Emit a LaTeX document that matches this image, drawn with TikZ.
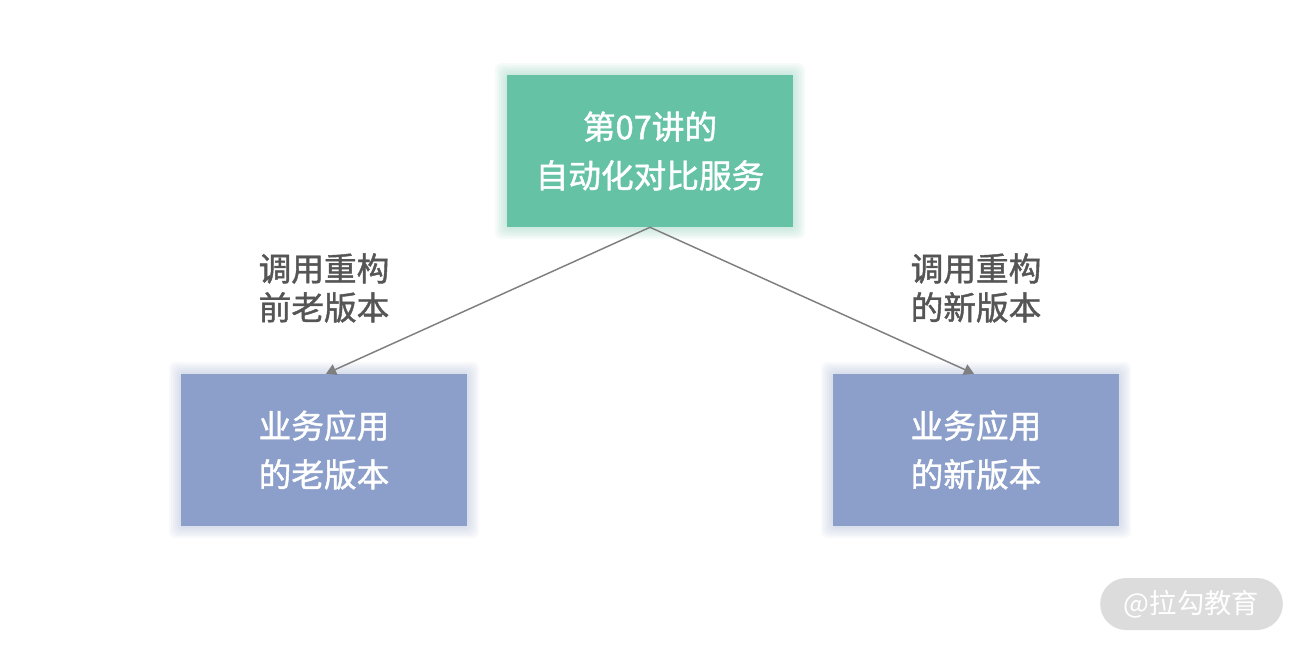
\documentclass[tikz,border=0pt]{standalone}
\usepackage{fontspec}
\setmainfont{Noto Sans CJK SC}
\newfontfamily\medfont[FakeBold=1.3]{Noto Sans CJK SC}
\usetikzlibrary{arrows.meta}
\definecolor{boxgreen}{HTML}{66C2A5}
\definecolor{boxblue}{HTML}{8C9FCA}
\definecolor{labelgray}{HTML}{555555}
\definecolor{linegray}{HTML}{7F7F7F}
\definecolor{wmgray}{HTML}{DCDCDC}
\tikzset{
  px/.style={x=0.75pt,y=-0.75pt},
  mainbox/.style={minimum width=214.5pt,minimum height=114pt,inner sep=0pt,text=white,
    font=\medfont\fontsize{24.5}{36.5}\selectfont,align=center},
  glow/.style={fill=#1,opacity=0.06,draw=none,rounded corners=5pt},
  sidelabel/.style={text=labelgray,font=\medfont\fontsize{24.5}{29.2}\selectfont,align=center},
  conn/.style={draw=linegray,line width=1.1pt,-{Triangle[length=7.5pt,width=8.5pt]}},
}
\begin{document}
\begin{tikzpicture}[px]
\useasboundingbox (0,0) rectangle (1300,647);
\fill[white] (0,0) rectangle (1300,647);
% glows
\foreach \d in {2,4,6,8,10,12}{
  \fill[glow=boxgreen] (507-\d,75-\d) rectangle (793+\d,227+\d);
  \fill[glow=boxblue] (181-\d,374-\d) rectangle (467+\d,526+\d);
  \fill[glow=boxblue] (833-\d,374-\d) rectangle (1119+\d,526+\d);
}
\node[mainbox,fill=boxgreen] (top) at (650,151) {第07讲的\\自动化对比服务};
\node[mainbox,fill=boxblue] (left) at (324,450) {业务应用\\的老版本};
\node[mainbox,fill=boxblue] (right) at (976,450) {业务应用\\的新版本};
\node[sidelabel] (ll) at (324,288) {调用重构\\前老版本};
\node[sidelabel] (rl) at (976,288) {调用重构\\的新版本};
\draw[conn] (top.south) -- ([xshift=1.5pt]left.north);
\draw[conn] (top.south) -- ([xshift=-1.5pt]right.north);
\node[fill=wmgray,rounded corners=19.5pt,minimum width=137pt,minimum height=39pt,inner sep=0pt,
  text=white,font=\fontsize{20.5}{24}\selectfont] (wm) at (1191.5,604) {@拉勾教育};
\end{tikzpicture}
\end{document}
